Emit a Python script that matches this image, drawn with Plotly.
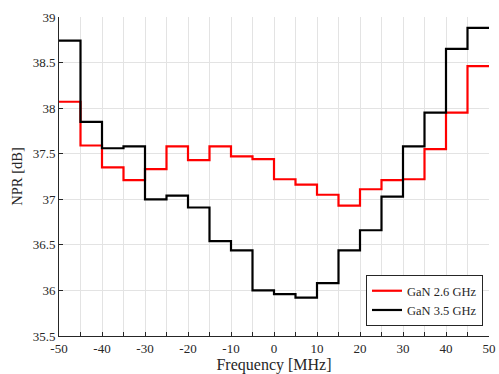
import plotly.graph_objects as go

freq_edges = [-50, -45, -40, -35, -30, -25, -20, -15, -10, -5, 0, 5, 10, 15, 20, 25, 30, 35, 40, 45, 50]
gan_26 = [38.07, 37.59, 37.35, 37.21, 37.33, 37.58, 37.43, 37.58, 37.47, 37.44,
          37.22, 37.16, 37.05, 36.93, 37.11, 37.21, 37.22, 37.55, 37.95, 38.46]
gan_35 = [38.74, 37.85, 37.56, 37.58, 37.00, 37.04, 36.91, 36.54, 36.44, 36.00,
          35.96, 35.92, 36.08, 36.44, 36.66, 37.03, 37.58, 37.95, 38.65, 38.88]
names = ["GaN 2.6 GHz", "GaN 3.5 GHz"]
colors = ["#ff0000", "#000000"]

fig = go.Figure()
for vals, name, col in zip([gan_26, gan_35], names, colors):
    fig.add_trace(go.Scatter(
        x=freq_edges, y=vals + [vals[-1]], mode="lines", name=name,
        line=dict(color=col, width=2.2, shape="hv")))

font = "Liberation Serif"
tfont = dict(family=font, size=13, color="#262626")
fig.update_layout(
    width=499, height=374,
    margin=dict(l=59, r=10, t=17, b=38, autoexpand=False),
    paper_bgcolor="white", plot_bgcolor="white",
    font=dict(family=font, size=13, color="#262626"),
    showlegend=True,
    legend=dict(x=0.986, y=0.031, xanchor="right", yanchor="bottom",
                bgcolor="white", bordercolor="#262626", borderwidth=1,
                font=dict(family=font, size=12.5, color="#262626"),
                tracegroupgap=0, itemwidth=30),
    xaxis=dict(range=[-50, 50], tickmode="array", automargin=False,
               tickvals=list(range(-50, 51, 5)),
               ticktext=[str(v) if v % 10 == 0 else "" for v in range(-50, 51, 5)],
               tickfont=tfont,
               ticks="inside", ticklen=4, tickcolor="#262626",
               showline=True, linecolor="#262626", linewidth=1,
               showgrid=True, gridcolor="#e3e3e3", gridwidth=1, zeroline=False,
               title=dict(text="Frequency [MHz]", standoff=0, font=dict(family=font, size=16, color="#262626"))),
    yaxis=dict(range=[35.5, 39], dtick=0.5, automargin=False,
               tickfont=tfont,
               ticks="inside", ticklen=4, tickcolor="#262626",
               showline=True, linecolor="#262626", linewidth=1,
               showgrid=True, gridcolor="#e3e3e3", gridwidth=1, zeroline=False,
               title=dict(text="NPR [dB]", standoff=6, font=dict(family=font, size=14.5, color="#262626"))),
)

fig.write_html("out.html")
